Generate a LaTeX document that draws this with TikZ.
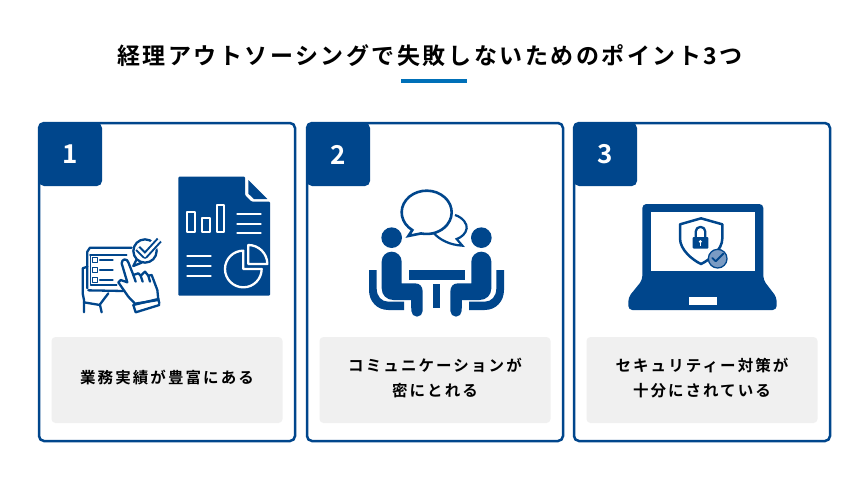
\documentclass[tikz,border=0pt]{standalone}
\usepackage{fontspec}
\newfontfamily\jpfont[LetterSpace=13.5,BoldFont={Noto Sans CJK JP Bold}]{Noto Sans CJK JP}
\newfontfamily\jptitle[LetterSpace=11,BoldFont={Noto Sans CJK JP Bold}]{Noto Sans CJK JP}
\newfontfamily\jpplain[BoldFont={Noto Sans CJK JP Bold}]{Noto Sans CJK JP}
\usepackage{tikz}
\usetikzlibrary{positioning}
\definecolor{MainBlue}{RGB}{0, 70, 140}
\definecolor{SkyBlue}{RGB}{0, 112, 184}
\definecolor{SoftGray}{RGB}{240, 240, 240}
\definecolor{BadgeBlue}{RGB}{122, 155, 195}
\tikzset{
  cardbox/.style={draw=MainBlue, line width=2.5pt, rounded corners=5pt, fill=white, minimum width=256pt, minimum height=318pt, outer sep=0pt},
  tabbox/.style={fill=MainBlue, rounded corners=5pt, minimum width=63pt, minimum height=63pt, text=white, font=\fontsize{26}{26}\selectfont\jpplain\bfseries, outer sep=0pt},
  notebox/.style={fill=SoftGray, rounded corners=4pt, minimum width=231pt, minimum height=86pt, align=center, outer sep=0pt, text depth=6pt, font=\fontsize{15.5}{25}\selectfont\jpfont\bfseries},
  iconline/.style={draw=MainBlue, line width=2.3pt, line cap=round, line join=round},
  iconthin/.style={draw=white, line width=2.3pt, line cap=round, line join=round},
}
\begin{document}
\begin{tikzpicture}[x=1pt, y=-1pt]
  \useasboundingbox (0,0) rectangle (867,495);
  \fill[white] (0,0) rectangle (867,495);

  \node[font=\fontsize{23}{23}\selectfont\jptitle\bfseries] (title) at (430,56) {経理アウトソーシングで失敗しないためのポイント3つ};
  \node[fill=SkyBlue, minimum width=66pt, minimum height=4pt, inner sep=0pt, below=8pt of title, xshift=4pt] (underline) {};

  \node[cardbox] (cardone) at (167,282) {};
  \node[cardbox] (cardtwo) at (435,282) {};
  \node[cardbox] (cardthree) at (702,282) {};

  \node[tabbox, anchor=north west] (tabone) at (cardone.north west) {1};
  \node[tabbox, anchor=north west] (tabtwo) at (cardtwo.north west) {2};
  \node[tabbox, anchor=north west] (tabthree) at (cardthree.north west) {3};

  \node[notebox, above=18pt of cardone.south] (noteone) {業務実績が豊富にある};
  \node[notebox, above=18pt of cardtwo.south] (notetwo) {コミュニケーションが\\密にとれる};
  \node[notebox, above=18pt of cardthree.south] (notethree) {セキュリティー対策が\\十分にされている};

  % report sheet
  \begin{scope}[shift={(30,115)}, scale=1/3]
    \fill[MainBlue, rounded corners=1pt] (445,185) -- (645,185) -- (645,240) -- (665,260) -- (720,260) -- (720,542) -- (445,542) -- cycle;
    \fill[MainBlue] (655,195) -- (712,252) -- (672,252) -- (655,236) -- cycle;
    \draw[iconthin] (470,290) rectangle (495,352);
    \draw[iconthin] (515,308) rectangle (540,352);
    \draw[iconthin] (560,270) rectangle (582,352);
    \draw[iconthin] (622,297) -- (692,297);
    \draw[iconthin] (622,326) -- (692,326);
    \draw[iconthin] (622,355) -- (692,355);
    \draw[iconthin] (472,424) -- (542,424);
    \draw[iconthin] (472,453) -- (542,453);
    \draw[iconthin] (472,482) -- (542,482);
    \draw[iconthin] (640,462) -- (640,407) arc[start angle=-90, end angle=-360, radius=55] -- cycle;
    \draw[iconthin] (655,447) -- (655,390) arc[start angle=-90, end angle=0, radius=57] -- cycle;
  \end{scope}

  % tablet and hand
  \begin{scope}[shift={(70,225)}, scale=1/3]
    \draw[iconline] (52,190) -- (52,80) -- (60,68) -- (185,68);
    \draw[iconline, line width=1.6pt] (60,90) -- (170,90);
    \draw[iconline, line width=1.6pt] (62,90) -- (62,180) -- (140,180);
    \draw[iconline] (55,196) -- (160,198);
    \draw[iconline, line width=1.5pt] (68,98) rectangle (82,112);
    \draw[iconline, line width=1.5pt] (68,128) rectangle (82,142);
    \draw[iconline, line width=1.5pt] (68,158) rectangle (82,172);
    \draw[iconline] (90,105) -- (128,105);
    \draw[iconline] (90,135) -- (128,135);
    \draw[iconline] (90,165) -- (128,165);
    \draw[iconline] (52,125) -- (38,130) -- (38,205) -- (42,225) -- (42,262);
    \draw[iconline] (42,232) -- (90,240) -- (95,262);
    \draw[iconline] (90,238) -- (115,205);
    \draw[iconline, fill=white] (225,78) circle[radius=35];
    \draw[iconline] (190,123) -- (200,103);
    \draw[iconline] (190,123) -- (215,113);
    \draw[white, line width=9pt, line cap=butt] (222,92) -- (265,45);
    \draw[iconline, line width=6.3pt, line cap=butt] (203,70) -- (225,92) -- (268,45);
    \draw[white, line width=2.3pt, line cap=butt] (203,70) -- (225,92) -- (268,45);
    \draw[iconline, fill=white] (195,236) -- (175,215) -- (145,172) -- (152,165) -- (172,172) -- (155,115) .. controls (155,100) and (172,100) .. (175,112) -- (190,150) -- (205,145) -- (212,152) -- (225,140) -- (235,152) -- (245,150) -- (262,195) -- (265,225) -- cycle;
    \draw[iconline] (190,150) -- (197,170);
    \draw[iconline] (212,152) -- (218,170);
    \draw[iconline] (235,152) -- (240,170);
    \draw[iconline] (190,240) -- (265,222) -- (268,235);
    \draw[iconline] (190,240) -- (197,262) -- (268,240);
  \end{scope}

  % meeting
  \begin{scope}[shift={(340,175)}, scale=1/3]
    \draw[iconline, line width=2.6pt, line cap=butt, line join=miter] (260,112) ++(125:75 and 65) arc[start angle=125, end angle=463, x radius=75, y radius=65] -- (205,183) -- cycle;
    \draw[iconline, line width=2.2pt, line cap=butt, line join=miter] (345,120) .. controls (370,128) and (382,148) .. (380,160) .. controls (378,175) and (365,187) .. (350,192) -- (367,212) .. controls (330,210) and (300,195) .. (282,175);
    \fill[MainBlue] (208,285) rectangle (376,314);
    \fill[MainBlue] (280,328) rectangle (300,398);
    \foreach \flip/\mid in {1/0, -1/579}{
      \begin{scope}[shift={(\mid,0)}, xscale=\flip]
        \fill[MainBlue] (155,188) circle[radius=31];
        \fill[MainBlue] (125,260) arc[start angle=180, end angle=360, radius=30] -- (185,325) -- (225,325) .. controls (240,325) and (248,335) .. (248,350) -- (248,408) arc[start angle=0, end angle=180, radius=17] -- (213,375) -- (160,375) .. controls (140,375) and (125,360) .. (125,340) -- cycle;
        \fill[MainBlue] (87,285) -- (110,285) -- (110,340) .. controls (110,365) and (125,380) .. (145,380) -- (192,380) -- (192,405) -- (145,405) .. controls (110,405) and (87,378) .. (87,345) -- cycle;
      \end{scope}
    }
  \end{scope}

  % laptop
  \begin{scope}[shift={(610,190)}, scale=1/3]
    \fill[MainBlue, rounded corners=4pt] (97,42) -- (460,42) -- (460,270) -- (500,322) -- (500,360) -- (55,360) -- (55,322) -- (97,270) -- cycle;
    \fill[white] (122,67) rectangle (434,243);
    \fill[white] (236,322) rectangle (320,344);
    \draw[iconline, line width=2.5pt, line cap=butt, line join=round, fill=white] (273,85) -- (337,103) -- (337,145) .. controls (337,180) and (298,210) .. (273,222) .. controls (248,210) and (210,180) .. (210,145) -- (210,103) -- cycle;
    \fill[MainBlue, rounded corners=1pt] (248,141) rectangle (295,176);
    \draw[iconline, line cap=butt] (257,141) -- (257,125) arc[start angle=180, end angle=360, radius=14.5] -- (286,141);
    \fill[white] (271,155) circle[radius=5];
    \fill[white] (269,155) rectangle (273,167);
    \draw[MainBlue, line width=1.3pt, fill=BadgeBlue] (323,206) circle[radius=28];
    \draw[MainBlue, line width=1.8pt, line cap=round, line join=round] (307,204) -- (317,214) -- (340,191);
  \end{scope}
\end{tikzpicture}
\end{document}
